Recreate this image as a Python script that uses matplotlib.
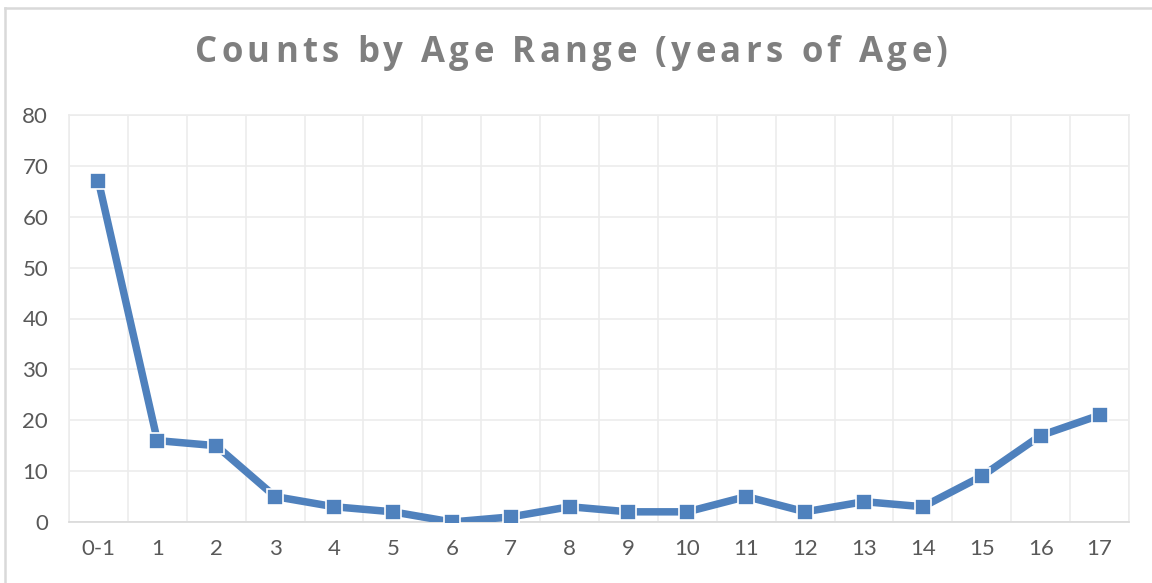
import matplotlib
matplotlib.use("Agg")
import matplotlib.pyplot as plt
from matplotlib.lines import Line2D

# data
age_labels = ["0-1", "1", "2", "3", "4", "5", "6", "7", "8", "9",
              "10", "11", "12", "13", "14", "15", "16", "17"]
counts = [67, 16, 15, 5, 3, 2, 0, 1, 3, 2, 2, 5, 2, 4, 3, 9, 17, 21]
y_ticks = [0, 10, 20, 30, 40, 50, 60, 70, 80]
title = "Counts by Age Range (years of Age)"

plt.rcParams['font.family'] = ['Lato', 'DejaVu Sans']

W, H = 1152, 583
fig = plt.figure(figsize=(W / 100, H / 100), dpi=100)
ax = fig.add_axes([69 / W, 1 - 522 / H, (1129 - 69) / W, (522 - 115) / H])

x = list(range(len(counts)))
ax.plot(x, counts, color="#4f81bd", lw=5.4, marker="s", markersize=11,
        markerfacecolor="#4f81bd", markeredgecolor="white", markeredgewidth=1.2,
        solid_joinstyle="round", zorder=3)

ax.set_xlim(-0.5, len(counts) - 0.5)
ax.set_ylim(0, 80)
ax.set_yticks(y_ticks)
ax.set_xticks(x)
ax.set_xticklabels(age_labels)
ax.tick_params(axis="both", length=0, labelsize=16, labelcolor="#595959")
ax.tick_params(axis="y", pad=15)
ax.tick_params(axis="x", pad=12)

# gridlines: horizontal at ticks, vertical between categories
for yv in y_ticks:
    ax.axhline(yv, color="#ececec", lw=1.2, zorder=1)
for i in range(len(counts) + 1):
    ax.axvline(i - 0.5, color="#ececec", lw=1.2, zorder=1)
for s in ax.spines.values():
    s.set_color("#ececec")
    s.set_linewidth(1.2)
ax.spines["bottom"].set_color("#d9d9d9")

# chart border (top and left visible)
fig.add_artist(Line2D([5 / W, 5 / W], [0, 1 - 8 / H], transform=fig.transFigure,
                      color="#d9d9d9", lw=1.8))
fig.add_artist(Line2D([5 / W, 1], [1 - 8 / H, 1 - 8 / H], transform=fig.transFigure,
                      color="#d9d9d9", lw=1.8))

# title with letter spacing, drawn char by char to span 195..948 px
fig.canvas.draw()
renderer = fig.canvas.get_renderer()
tfont = ['Open Sans', 'DejaVu Sans']
tsize = 25
probe = fig.text(0, 0, "x", fontsize=tsize, fontweight="bold", family=tfont)
wx = probe.get_window_extent(renderer).width

def width_of(s):
    probe.set_text(s + "x")
    return probe.get_window_extent(renderer).width - wx

offsets = [width_of(title[:i]) for i in range(len(title) + 1)]
probe.remove()
t_left, t_right = 195, 948
tracking = (t_right - t_left - offsets[-1]) / (len(title) - 1)
for i, ch in enumerate(title):
    if ch == " ":
        continue
    px = t_left + offsets[i] + tracking * i
    fig.text(px / W, 1 - 62 / H, ch, fontsize=tsize, fontweight="bold",
             family=tfont, color="#7f7f7f", ha="left", va="baseline")

fig.savefig("out.png", dpi=100)
